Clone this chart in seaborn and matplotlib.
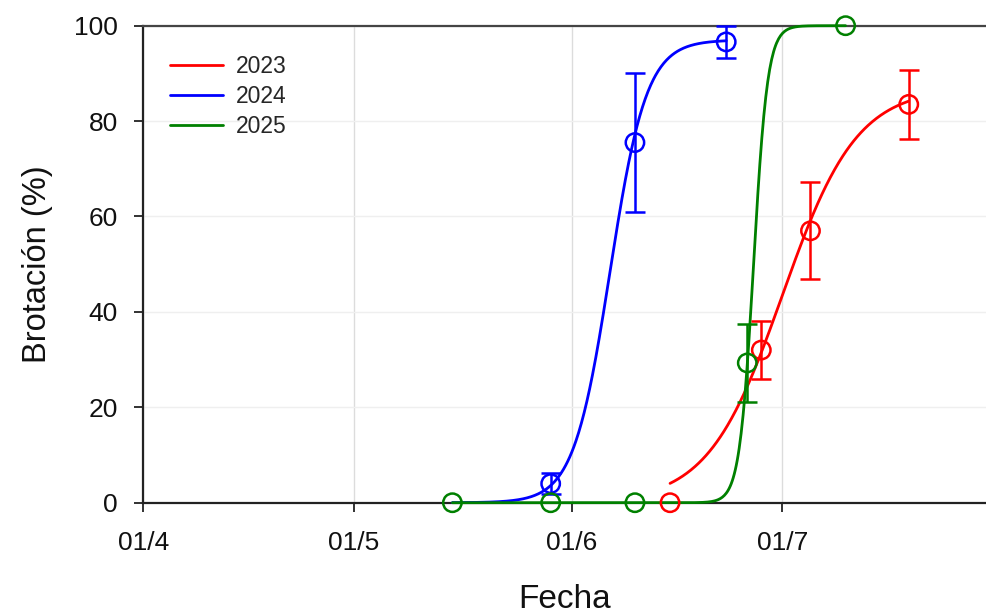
import numpy as np
import pandas as pd
import matplotlib
matplotlib.use("Agg")
import matplotlib.pyplot as plt
import matplotlib.dates as mdates
from matplotlib.ticker import FuncFormatter
import seaborn as sns

# Seasons and their colours
years = ["2023", "2024", "2025"]
colors = ["#ff0000", "#0000ff", "#008000"]

# Observed sprouting (%) with error bars; all seasons on a common calendar
fechas_2023 = ["2025-06-15", "2025-06-28", "2025-07-05", "2025-07-19"]
brot_2023 = [0.0, 32.0, 57.0, 83.5]
err_2023 = [0.0, 6.0, 10.2, 7.2]

fechas_2024 = ["2025-05-29", "2025-06-10", "2025-06-23"]
brot_2024 = [4.0, 75.5, 96.6]
err_2024 = [2.2, 14.6, 3.3]

fechas_2025 = ["2025-05-15", "2025-05-29", "2025-06-10", "2025-06-26", "2025-07-10"]
brot_2025 = [0.0, 0.0, 0.0, 29.3, 100.0]
err_2025 = [0.0, 0.0, 0.0, 8.2, 0.0]

# Fitted logistic models: asymptote, inflection date, scale (days), drawn range
fit_asym = [87.0, 97.0, 100.0]
fit_mid = ["2025-07-01 00:00", "2025-06-06 11:00", "2025-06-26 21:30"]
fit_scale = [5.3, 2.6, 1.0]
fit_start = ["2025-06-15", "2025-05-15", "2025-05-15"]
fit_end = ["2025-07-19", "2025-06-23", "2025-07-10"]

x_ticks = ["2025-04-01", "2025-05-01", "2025-06-01", "2025-07-01"]
x_limits = ["2025-04-01", "2025-07-30"]
y_ticks = [0, 20, 40, 60, 80, 100]

obs = {
    "2023": (fechas_2023, brot_2023, err_2023),
    "2024": (fechas_2024, brot_2024, err_2024),
    "2025": (fechas_2025, brot_2025, err_2025),
}

# Smooth model curves
frames = []
for yr, a, mid, s, t0, t1 in zip(years, fit_asym, fit_mid, fit_scale, fit_start, fit_end):
    t = pd.date_range(t0, t1, periods=400)
    days = (t - pd.Timestamp(mid)) / pd.Timedelta(days=1)
    frames.append(pd.DataFrame({"Fecha": t,
                                "Brotación": a / (1.0 + np.exp(-days / s)),
                                "Año": yr}))
curves = pd.concat(frames, ignore_index=True)

sns.set_style("white")
plt.rcParams["font.family"] = ["Liberation Sans", "DejaVu Sans"]

fig = plt.figure(figsize=(9.86, 6.16), dpi=100)
ax = fig.add_axes([0.1455, 0.1839, 0.8545, 0.7744])

sns.lineplot(data=curves, x="Fecha", y="Brotación", hue="Año",
             hue_order=years, palette=colors, linewidth=2.0,
             ax=ax, clip_on=False, zorder=3)

for yr, c in zip(years, colors):
    f, v, e = obs[yr]
    f = pd.to_datetime(f)
    v = np.asarray(v)
    e = np.asarray(e)
    m = e > 0
    ax.errorbar(f[m], v[m], yerr=e[m], fmt="none", ecolor=c,
                elinewidth=1.8, capsize=7.5, capthick=1.8,
                clip_on=False, zorder=4)
    sns.scatterplot(x=f, y=v, marker="o", s=175, facecolors="none",
                    edgecolor=c, color=c, linewidth=1.8, ax=ax,
                    legend=False, clip_on=False, zorder=5)

ax.set_xlim(pd.Timestamp(x_limits[0]), pd.Timestamp(x_limits[1]))
ax.set_ylim(0, 100)
ax.set_xticks(pd.to_datetime(x_ticks))
ax.xaxis.set_major_formatter(FuncFormatter(
    lambda v, p: f"{mdates.num2date(v).day:02d}/{mdates.num2date(v).month}"))
ax.set_yticks(y_ticks)

ax.grid(axis="x", color="#dcdcdc", linewidth=1.0)
ax.grid(axis="y", color="#efefef", linewidth=1.0)
ax.set_axisbelow(True)

for side in ["left", "bottom"]:
    ax.spines[side].set_color("#222222")
    ax.spines[side].set_linewidth(1.6)
ax.spines["top"].set_color("#444444")
ax.spines["top"].set_linewidth(1.6)
ax.spines["right"].set_visible(False)

ax.tick_params(axis="both", direction="out", length=6.5, width=1.3,
               color="#222222", labelsize=19, labelcolor="#111111")
ax.tick_params(axis="x", pad=14, bottom=True)
ax.tick_params(axis="y", pad=12, left=True)

ax.set_xlabel("Fecha", fontsize=24, labelpad=21, color="#111111")
ax.set_ylabel("Brotación (%)", fontsize=23.5, labelpad=15, color="#111111")

handles, labels = ax.get_legend_handles_labels()
ax.legend(handles, labels, loc="upper left", bbox_to_anchor=(0.021, 0.957),
          borderaxespad=0, frameon=False, fontsize=16.5, handlelength=2.3,
          handletextpad=0.55, labelspacing=0.3)

fig.savefig("out.png", dpi=100)
